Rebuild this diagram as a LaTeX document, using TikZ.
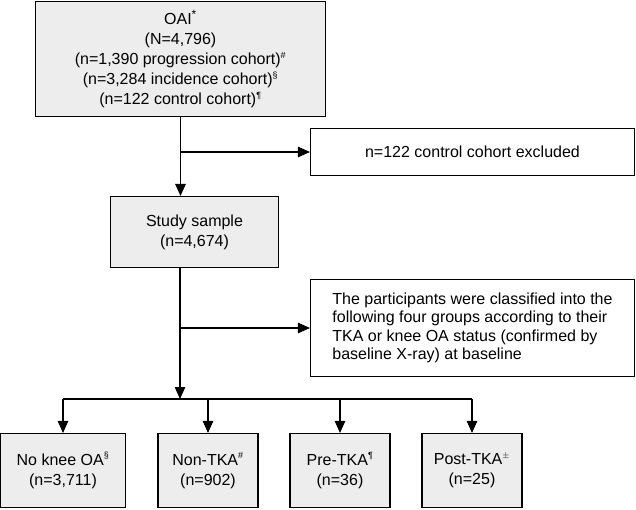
\documentclass[tikz,border=0pt]{standalone}
\usepackage{fontspec}
\setmainfont{Liberation Sans}
\usetikzlibrary{arrows.meta}
\newcommand{\sym}[1]{\textsuperscript{\fontsize{9}{9}\selectfont #1}}
\newcommand{\oaistar}{\textsuperscript{\fontsize{12}{12}\selectfont *}}
\begin{document}
\begin{tikzpicture}[x=1pt,y=-1pt,
  font=\fontsize{16}{20}\selectfont,
  box/.style={draw,line width=1.1pt,inner sep=0pt,align=center},
  grey/.style={box,fill=black!7},
  arr/.style={line width=1.1pt,-{Triangle[length=12pt,width=10.5pt]}},
  line/.style={line width=1.1pt}]
\useasboundingbox (0,0) rectangle (636,509);
% boxes
\node[grey,minimum width=290pt,minimum height=115pt] (oai) at (180.5,59)
  {OAI\oaistar\\(N=4,796)\\(n=1,390 progression cohort)\sym{\#}\\(n=3,284 incidence cohort)\sym{\S}\\(n=122 control cohort)\sym{\P}};
\node[box,minimum width=324pt,minimum height=47pt] (excl) at (472.5,152)
  {n=122 control cohort excluded};
\node[grey,minimum width=168pt,minimum height=71pt] (study) at (194.5,232)
  {Study sample\\(n=4,674)};
\node[box,minimum width=324pt,minimum height=97pt,align=left,
  font=\fontsize{16}{18.5}\selectfont] (class) at (472.5,328)
  {The participants were classified into the\\following four groups according to their\\TKA or knee OA status (confirmed by\\baseline X-ray) at baseline};
\node[grey,minimum width=125pt,minimum height=74pt] (g1) at (63,470.5)
  {No knee OA\sym{\S}\\(n=3,711)};
\node[grey,minimum width=100pt,minimum height=74pt] (g2) at (208,470.5)
  {Non-TKA\sym{\#}\\(n=902)};
\node[grey,minimum width=100pt,minimum height=74pt] (g3) at (340,470.5)
  {Pre-TKA\sym{\P}\\(n=36)};
\node[grey,minimum width=100pt,minimum height=74pt] (g4) at (472,470.5)
  {Post-TKA\sym{$\pm$}\\(n=25)};
\coordinate (split) at (180,399);
% connectors
\draw[arr] (oai.south) -- (oai.south |- study.north);
\draw[arr] (oai.south |- excl.west) -- (excl.west);
\draw[arr] (study.south -| split) -- (split);
\draw[arr] (class.west -| split) -- (class.west);
\draw[line] (split -| g1.north) -- (split -| g4.north);
\foreach \g in {g1,g2,g3,g4}
  \draw[arr] (split -| \g.north) -- (\g.north);
\end{tikzpicture}
\end{document}
